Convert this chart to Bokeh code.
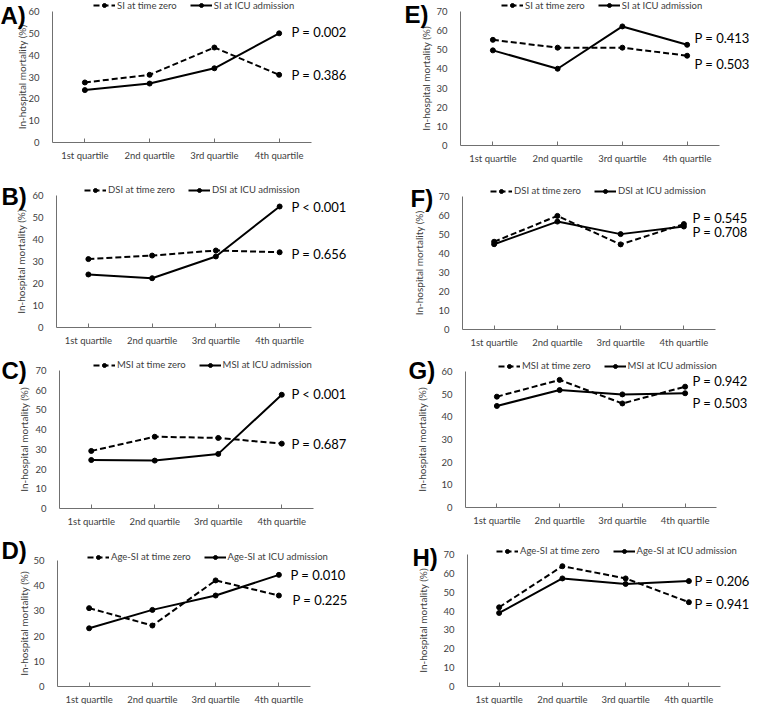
import math
from bokeh.plotting import figure
from bokeh.models import Legend, LegendItem, Label, FixedTicker, Range1d
from bokeh.layouts import row, column
from bokeh.embed import file_html
from bokeh.resources import INLINE

# ---------------- data ----------------
quartiles = ["1st quartile", "2nd quartile", "3rd quartile", "4th quartile"]

A_zero = [27.5, 31.0, 43.5, 31.0]
A_icu = [24.0, 27.0, 34.0, 50.0]
B_zero = [31.1, 32.7, 35.0, 34.2]
B_icu = [24.1, 22.4, 32.3, 55.0]
C_zero = [29.2, 36.4, 35.8, 32.9]
C_icu = [24.6, 24.3, 27.7, 57.7]
D_zero = [31.1, 24.2, 42.1, 36.1]
D_icu = [23.1, 30.4, 36.1, 44.3]
E_zero = [55.2, 51.1, 51.1, 46.9]
E_icu = [49.7, 40.1, 62.2, 52.6]
F_zero = [46.2, 59.8, 44.8, 55.5]
F_icu = [44.9, 56.8, 50.2, 54.2]
G_zero = [48.9, 56.3, 45.9, 53.3]
G_icu = [44.8, 51.8, 49.9, 50.4]
H_zero = [42.0, 63.8, 57.3, 44.7]
H_icu = [39.0, 57.3, 54.4, 55.9]

A_p = ["P = 0.002", "P = 0.386"]
B_p = ["P < 0.001", "P = 0.656"]
C_p = ["P < 0.001", "P = 0.687"]
D_p = ["P = 0.010", "P = 0.225"]
E_p = ["P = 0.413", "P = 0.503"]
F_p = ["P = 0.545", "P = 0.708"]
G_p = ["P = 0.942", "P = 0.503"]
H_p = ["P = 0.206", "P = 0.941"]

y_title = "In-hospital mortality (%)"

FONT = "Lato"
GREY = "#404040"
AXIS = "#707070"
W = 376

# category positions on a numeric axis (band centres)
xpos = [i + 0.5 for i in range(len(quartiles))]
ncat = len(quartiles)


def make_panel(letter, prefix, zero, icu, ymax, ptexts, pys, pxs,
               h, axL, axR, axT, axB, lpos, gpos, title_x):
    # axL..axR: pixel span of x axis, axT..axB: pixel span of y axis (top-left origin)
    sx = (axR - axL) / ncat
    sy = (axB - axT) / ymax
    xr = Range1d(-axL / sx, (W - axL) / sx)
    yr = Range1d(-(h - axB) / sy, ymax + axT / sy)
    p = figure(x_range=xr, y_range=yr, width=W, height=h,
               min_border_left=0, min_border_right=0, min_border_top=0, min_border_bottom=0,
               toolbar_location=None, output_backend="svg", title=None)
    p.outline_line_color = None
    p.xgrid.visible = False
    p.ygrid.visible = False

    p.yaxis.fixed_location = 0
    p.yaxis.bounds = (0, ymax)
    p.yaxis.ticker = FixedTicker(ticks=list(range(0, ymax + 1, 10)))
    p.yaxis.major_tick_line_color = None
    p.yaxis.minor_tick_line_color = None
    p.yaxis.major_label_standoff = 7

    p.xaxis.fixed_location = 0
    p.xaxis.bounds = (0, ncat)
    p.xaxis.ticker = FixedTicker(ticks=xpos)
    p.xaxis.major_label_overrides = {x: q for x, q in zip(xpos, quartiles)}
    p.xaxis.minor_tick_line_color = None
    p.xaxis.major_tick_in = 4
    p.xaxis.major_tick_out = 0
    p.xaxis.major_tick_line_color = AXIS
    p.xaxis.major_label_standoff = 7
    for ax in (p.xaxis, p.yaxis):
        ax.axis_line_color = AXIS
        ax.major_label_text_font = FONT
        ax.major_label_text_font_size = "9.5px"
        ax.major_label_text_color = GREY

    l0 = p.line(xpos, zero, line_color="black", line_width=2, line_dash="6 3")
    s0 = p.scatter(xpos, zero, marker="circle", size=5, color="black")
    l1 = p.line(xpos, icu, line_color="black", line_width=2)
    s1 = p.scatter(xpos, icu, marker="circle", size=5, color="black")

    legend = Legend(items=[LegendItem(label=prefix + " at time zero", renderers=[l0, s0]),
                           LegendItem(label=prefix + " at ICU admission", renderers=[l1, s1])],
                    location=(gpos[0], h - gpos[1] - 5), orientation="horizontal",
                    padding=0, margin=0, spacing=13, glyph_width=22, glyph_height=10,
                    label_height=10, label_standoff=2, label_text_font=FONT,
                    label_text_font_size="9.5px", label_text_color=GREY,
                    background_fill_alpha=0, border_line_alpha=0)
    p.add_layout(legend)

    # y-axis title
    p.add_layout(Label(x=title_x, y=h - (axT + axB) / 2, x_units="screen", y_units="screen",
                       text=y_title, angle=math.pi / 2, text_font=FONT,
                       text_font_size="10px", text_color=GREY,
                       text_align="center", text_baseline="middle"))

    for t, y, x in zip(ptexts, pys, pxs):
        p.add_layout(Label(x=x, y=y, x_units="screen", y_units="data", text=t,
                           text_font=FONT, text_font_size="13px", text_color="black",
                           text_baseline="middle", text_align="left"))

    p.add_layout(Label(x=lpos[0], y=h - lpos[1], x_units="screen", y_units="screen",
                       text=letter, text_font="Liberation Sans", text_font_size="24px",
                       text_font_style="bold", text_color="black",
                       text_baseline="middle", text_align="left"))
    return p


pA = make_panel("A)", "SI", A_zero, A_icu, 60, A_p, [50.8, 30.7], [291, 291],
                172, 52, 311, 11, 142, (0, 15), (93, 5.5), 21)
pE = make_panel("E)", "SI", E_zero, E_icu, 70, E_p, [56.4, 42.8], [318, 318],
                172, 84, 343, 11, 145, (28, 14), (125, 5.5), 49)
pB = make_panel("B)", "DSI", B_zero, B_icu, 60, B_p, [55.0, 33.6], [291, 291],
                178, 56, 311, 23, 155, (1, 24), (84, 18), 20)
pF = make_panel("F)", "DSI", F_zero, F_icu, 70, F_p, [58.9, 51.1], [316, 316],
                178, 86, 339, 24, 157, (34, 26), (114, 19), 42)
pC = make_panel("C)", "MSI", C_zero, C_icu, 70, C_p, [58.3, 32.5], [291, 291],
                178, 59, 313, 20, 158, (1, 20), (93, 15), 23)
pG = make_panel("G)", "MSI", G_zero, G_icu, 60, G_p, [56.0, 46.3], [316, 316],
                178, 89, 340, 21, 157, (32, 20), (122, 16), 45)
pD = make_panel("D)", "Age-SI", D_zero, D_icu, 50, D_p, [44.4, 34.5], [290, 292],
                176, 57, 310, 32, 158, (1, 22), (87, 29), 23)
pH = make_panel("H)", "Age-SI", H_zero, H_icu, 70, H_p, [56.2, 44.0], [318, 318],
                176, 91, 344, 26, 158, (36, 29), (120, 23), 46)

layout = column(row(pA, pE), row(pB, pF), row(pC, pG), row(pD, pH))

open("out.html", "w").write(file_html(layout, INLINE))
